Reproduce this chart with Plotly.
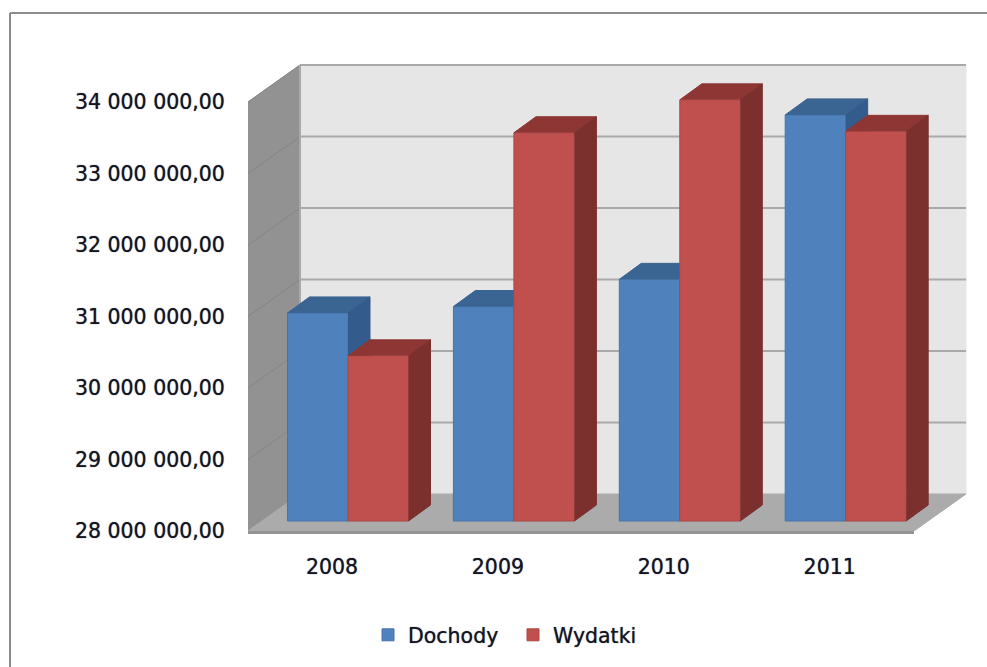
import plotly.graph_objects as go

# ---- data ----
years = ["2008", "2009", "2010", "2011"]
dochody = [30910000, 31000000, 31380000, 33680000]
wydatki = [30310000, 33430000, 33890000, 33450000]
tick_values = [28000000, 29000000, 30000000, 31000000, 32000000, 33000000, 34000000]
tick_labels = ["28 000 000,00", "29 000 000,00", "30 000 000,00", "31 000 000,00",
               "32 000 000,00", "33 000 000,00", "34 000 000,00"]

# ---- geometry of the fake 3D projection (pixel scales) ----
W, H = 987, 667
ML, MB = 232, 119
PX_PER_CAT = 165.9
PX_PER_UNIT = 71.5 / 1e6
CAT0_PX = 348.0          # pixel of the centre of the first group
FLOOR_FRONT_PX = 531.0
BAR_BASE_PX = 521.0
plot_h = H - MB

def yrange(base_px):
    return [28e6 + (base_px - plot_h) / PX_PER_UNIT, 28e6 + base_px / PX_PER_UNIT]

xrange_ = [(ML - CAT0_PX) / PX_PER_CAT, (W - CAT0_PX) / PX_PER_CAT]
bar_w = 60.5 / PX_PER_CAT
bdx, bdy = 22 / PX_PER_CAT, 16 / PX_PER_UNIT     # depth of a bar
wdx, wdy = 52 / PX_PER_CAT, 37 / PX_PER_UNIT     # depth of the floor
xl = (248 - CAT0_PX) / PX_PER_CAT
xr = (914 - CAT0_PX) / PX_PER_CAT
vmin, vmax = tick_values[0], tick_values[-1]
label_shift = -16 / PX_PER_CAT                   # year labels sit left of the group centres

fig = go.Figure()

def poly(xs, ys, color, yaxis="y", line=None):
    fig.add_trace(go.Scatter(x=xs, y=ys, mode="lines", fill="toself", fillcolor=color,
                             line=dict(color=line or color, width=1), showlegend=False,
                             hoverinfo="skip", yaxis=yaxis))

def seg(xs, ys, color, width):
    fig.add_trace(go.Scatter(x=xs, y=ys, mode="lines", line=dict(color=color, width=width),
                             showlegend=False, hoverinfo="skip", yaxis="y"))

# walls and floor, on the label plane
poly([xl + wdx, xr + wdx, xr + wdx, xl + wdx], [vmin + wdy, vmin + wdy, vmax + wdy, vmax + wdy], "#E6E6E6")
poly([xl, xl + wdx, xl + wdx, xl], [vmin, vmin + wdy, vmax + wdy, vmax], "#929292")
poly([xl, xl + wdx, xr + wdx, xr], [vmin, vmin + wdy, vmin + wdy, vmin], "#ABABAB")
seg([xl, xr], [vmin - 1.5 / PX_PER_UNIT] * 2, "#949494", 3)
for v in tick_values[1:]:
    seg([xl + wdx, xr + wdx], [v + wdy, v + wdy], "#A9A9A9", 2)
    seg([xl, xl + wdx], [v, v + wdy], "#868686", 1)
seg([xl + wdx, xl + wdx], [vmin + wdy, vmax + wdy], "#A9A9A9", 2)
seg([xl + wdx, xr + wdx], [vmax + wdy, vmax + wdy], "#A9A9A9", 2)

series = [
    ("Dochody", dochody, "#4F81BD", "#3A6491", "#335C8C", "#4674A8", "y2", -bar_w),
    ("Wydatki", wydatki, "#C0504D", "#8E3634", "#7C302E", "#AD4744", "y3", 0.0),
]
for name, vals, front, top, side, edge, ya, off in series:
    fig.add_trace(go.Bar(x=list(range(len(years))), y=[v - vmin for v in vals], base=vmin,
                         width=bar_w, offset=off, name=name, yaxis=ya,
                         marker=dict(color=front, line=dict(color=edge, width=1))))
    for i, v in enumerate(vals):
        x0, x1 = i + off, i + off + bar_w
        poly([x0, x0 + bdx, x1 + bdx, x1], [v, v + bdy, v + bdy, v], top, ya)
        poly([x1, x1 + bdx, x1 + bdx, x1], [v, v + bdy, vmin + bdy, vmin], side, ya)

font = dict(family="DejaVu Sans", size=20.5, color="#15151f", shadow="0 0 1px rgba(20,20,50,0.75)")
hidden = dict(visible=False, overlaying="y", side="left", showgrid=False, zeroline=False)
fig.update_layout(
    width=W, height=H, margin=dict(l=ML, r=0, t=0, b=MB, pad=0),
    paper_bgcolor="white", plot_bgcolor="white", font=font, barmode="overlay",
    showlegend=True,
    xaxis=dict(range=xrange_, tickmode="array",
               tickvals=[i + label_shift for i in range(len(years))], ticktext=years,
               showgrid=False, zeroline=False, showline=False, ticks="outside", ticklen=0,
               tickcolor="rgba(0,0,0,0)", tickfont=font),
    yaxis=dict(range=yrange(FLOOR_FRONT_PX), tickmode="array", tickvals=tick_values, ticktext=tick_labels,
               showgrid=False, zeroline=False, showline=False, ticks="outside", ticklen=2,
               tickcolor="rgba(0,0,0,0)", tickfont=font),
    yaxis2=dict(range=yrange(BAR_BASE_PX), **hidden),
    yaxis3=dict(range=yrange(BAR_BASE_PX), **hidden),
    legend=dict(orientation="h", x=(513 - ML) / (W - ML), y=(plot_h - 635) / plot_h,
                xanchor="center", yanchor="middle", font=font, bgcolor="rgba(0,0,0,0)",
                entrywidth=100, entrywidthmode="pixels",
                itemclick=False, itemdoubleclick=False),
    shapes=[
        dict(type="line", xref="paper", yref="paper", x0=(10 - ML) / (W - ML), x1=1,
             y0=(plot_h - 13) / plot_h, y1=(plot_h - 13) / plot_h, line=dict(color="#8C8C8C", width=2)),
        dict(type="line", xref="paper", yref="paper", x0=(10 - ML) / (W - ML), x1=(10 - ML) / (W - ML),
             y0=(plot_h - 13) / plot_h, y1=(plot_h - H) / plot_h, line=dict(color="#8C8C8C", width=2)),
    ],
)
fig.write_html("out.html", config={"displayModeBar": False},
               post_script="document.body.style.margin='0';")
